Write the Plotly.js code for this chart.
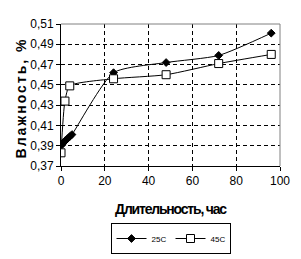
<!DOCTYPE html>
<html><head><meta charset="utf-8">
<script src="https://cdn.plot.ly/plotly-3.0.1.min.js"></script>
<style>
html,body{margin:0;padding:0;background:#fff;}
.annotation-text{letter-spacing:2px;}
.xtitle{letter-spacing:-1.2px;}
</style>
</head><body>
<div id="chart" style="width:301px;height:259px;"></div>
<script>
const hours25 = [0.5, 1, 2, 3, 4, 5, 24, 48, 72, 96];
const moist25 = [0.391, 0.393, 0.395, 0.397, 0.399, 0.401, 0.462, 0.472, 0.479, 0.501];
const hours45 = [0, 1.8, 4, 24, 48, 72, 96];
const moist45 = [0.383, 0.434, 0.449, 0.456, 0.460, 0.471, 0.480];
const xTicks = [0, 20, 40, 60, 80, 100];
const yTicks = [0.37, 0.39, 0.41, 0.43, 0.45, 0.47, 0.49, 0.51];
const seriesNames = ['25C', '45C'];
const xTitle = 'Длительность, час';
const yTitle = 'Влажность, %';

const baseFamily = '"Liberation Sans", Arial, sans-serif';
const tickFont = {family: baseFamily, size: 12, color: '#000'};

const traces = [
  {x: hours25, y: moist25, name: seriesNames[0], mode: 'lines+markers',
   line: {color: '#000', width: 1, shape: 'spline', smoothing: 0.6},
   marker: {symbol: 'diamond', size: 6, color: '#000', line: {color: '#000', width: 1}}},
  {x: hours45, y: moist45, name: seriesNames[1], mode: 'lines+markers',
   line: {color: '#000', width: 1, shape: 'spline', smoothing: 0.6},
   marker: {symbol: 'square', size: 8, color: '#fff', line: {color: '#000', width: 1}}}
];

const layout = {
  width: 301, height: 259,
  margin: {l: 61, r: 21, t: 24, b: 93},
  paper_bgcolor: '#fff', plot_bgcolor: '#fff',
  separators: ', ',
  showlegend: true,
  legend: {orientation: 'h', x: 0.5, xanchor: 'center', xref: 'paper', y: 5/259, yanchor: 'bottom', yref: 'container',
    bordercolor: '#000', borderwidth: 1, font: {family: baseFamily, size: 8, color: '#000'},
    itemwidth: 30, entrywidth: 14, entrywidthmode: 'pixels', tracegroupgap: 0, bgcolor: '#fff'},
  xaxis: {range: [0, 100], tickvals: xTicks, ticks: 'outside', ticklen: 4, tickcolor: '#000',
    showline: true, linecolor: '#000', linewidth: 1, zeroline: false,
    showgrid: true, gridcolor: '#000', gridwidth: 1, griddash: '4px,3px',
    tickfont: tickFont,
    title: {text: xTitle, font: {family: baseFamily, size: 14, weight: 'bold', color: '#000'}, standoff: 16}},
  yaxis: {range: [0.37, 0.51], tickvals: yTicks, tickformat: '.2f', ticks: 'outside', ticklen: 4, tickcolor: '#000',
    showline: true, linecolor: '#000', linewidth: 1, zeroline: false,
    showgrid: true, gridcolor: '#000', gridwidth: 1, griddash: '4px,3px',
    tickfont: tickFont},
  annotations: [
    {text: yTitle, textangle: -90, xref: 'paper', yref: 'paper', x: -0.183, y: 0.482, xanchor: 'center', yanchor: 'middle',
     showarrow: false, font: {family: baseFamily, size: 14, weight: 'bold', color: '#000'}}
  ],
  shapes: [
    {type: 'line', xref: 'paper', yref: 'paper', x0: 0, x1: 1, y0: 1, y1: 1, line: {color: '#808080', width: 1}, layer: 'above'},
    {type: 'line', xref: 'paper', yref: 'paper', x0: 1, x1: 1, y0: 0, y1: 1, line: {color: '#808080', width: 1}, layer: 'above'}
  ]
};

Plotly.newPlot('chart', traces, layout, {displayModeBar: false, staticPlot: true});
</script>
</body></html>
